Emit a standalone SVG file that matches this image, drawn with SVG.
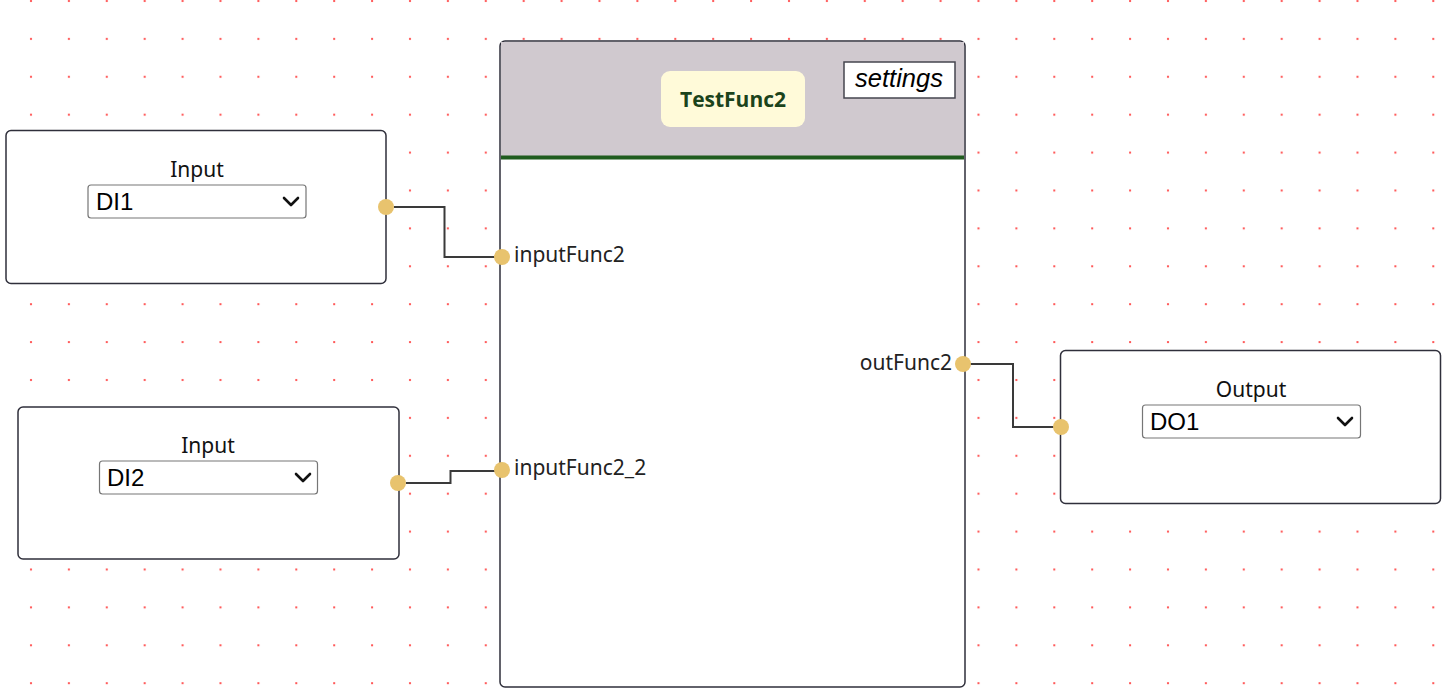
<svg xmlns="http://www.w3.org/2000/svg" width="1445" height="697" viewBox="0 0 1445 697">
<style>
.node{fill:#fff;stroke:#2f2f3b;stroke-width:1.5}
.title{font-family:"Noto Sans","Open Sans",sans-serif;font-size:21px;fill:#111;text-anchor:middle}
.sel{fill:#fff;stroke:#767676;stroke-width:1.2}
.seltext{font-family:"Liberation Sans",Arial,sans-serif;font-size:24px;fill:#000}
.chev{fill:none;stroke:#111;stroke-width:2.6;stroke-linecap:round;stroke-linejoin:round}
.port{fill:#e8c36e}
.plabel{font-family:"Noto Sans","Open Sans",sans-serif;font-size:21px;fill:#222}
.wire{fill:none;stroke:#3a3a3a;stroke-width:2}
</style>
<defs>
<pattern id="dots" patternUnits="userSpaceOnUse" x="12" y="-18" width="37.9" height="37.9">
<rect x="18" y="18" width="2" height="2" fill="#f55"/>
</pattern>
</defs>
<rect width="1445" height="697" fill="#fff"/>
<rect width="1445" height="697" fill="url(#dots)"/>

<g id="connectors">
<path class="wire" d="M394,207 H444.5 V257 H496"/>
<path class="wire" d="M406,483 H450.5 V471 H496"/>
<path class="wire" d="M970,364 H1013 V427 H1055"/>
</g>

<g id="func">
<rect class="node" x="500" y="41" width="465" height="646" rx="5"/>
<path d="M501,42 H964 V156 H501 Z" fill="#d0c9cf"/>
<rect x="501" y="155.5" width="463" height="4" fill="#1f5c1f"/>
<rect x="661" y="71" width="144" height="56" rx="9" fill="#fffad9"/>
<text x="733" y="107" font-family="'Open Sans','Noto Sans',sans-serif" font-size="21" font-weight="bold" fill="#1b431b" text-anchor="middle">TestFunc2</text>
<rect x="844" y="62" width="111" height="36" fill="#fff" stroke="#45454f" stroke-width="1.5"/>
<text x="899" y="87" font-family="'Liberation Sans',Arial,sans-serif" font-size="25.5" font-style="italic" fill="#000" text-anchor="middle">settings</text>
<circle class="port" cx="502" cy="257" r="8"/>
<text class="plabel" x="514" y="262">inputFunc2</text>
<circle class="port" cx="502" cy="470" r="8"/>
<text class="plabel" x="514" y="475">inputFunc2_2</text>
<circle class="port" cx="963" cy="364" r="8"/>
<text class="plabel" x="952" y="370" text-anchor="end">outFunc2</text>
</g>

<g id="input1">
<rect class="node" x="6" y="130.5" width="380" height="153" rx="5"/>
<text class="title" x="197" y="177">Input</text>
<rect class="sel" x="88" y="185" width="218" height="33" rx="3"/>
<text class="seltext" x="96" y="210">DI1</text>
<path class="chev" d="M284,198 L291,205 L298,198"/>
<circle class="port" cx="386" cy="207" r="8"/>
</g>

<g id="input2">
<rect class="node" x="18" y="407" width="381" height="152" rx="5"/>
<text class="title" x="208" y="453">Input</text>
<rect class="sel" x="99.5" y="461" width="218" height="33" rx="3"/>
<text class="seltext" x="107" y="486">DI2</text>
<path class="chev" d="M296,474 L303,481 L310,474"/>
<circle class="port" cx="398" cy="483" r="8"/>
</g>

<g id="output1">
<rect class="node" x="1060.5" y="350.5" width="380" height="153" rx="5"/>
<text class="title" x="1251" y="397">Output</text>
<rect class="sel" x="1142.5" y="405" width="218" height="33" rx="3"/>
<text class="seltext" x="1150" y="430">DO1</text>
<path class="chev" d="M1338,418 L1345,425 L1352,418"/>
<circle class="port" cx="1061" cy="427" r="8"/>
</g>
</svg>
